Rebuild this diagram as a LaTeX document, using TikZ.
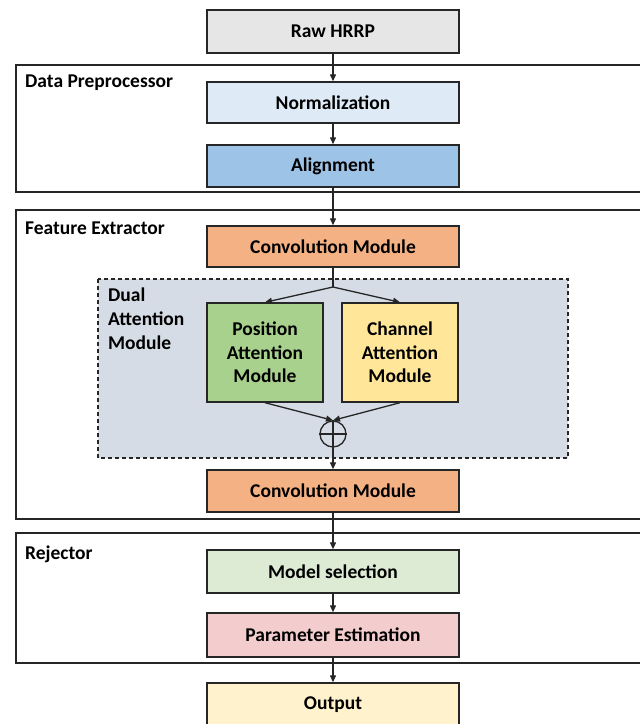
\documentclass[tikz,border=0pt]{standalone}
\usepackage{fontspec}
\setmainfont{Carlito}
\usetikzlibrary{arrows.meta}
\definecolor{edge}{HTML}{262626}
\definecolor{cRaw}{HTML}{E7E6E6}
\definecolor{cNorm}{HTML}{DEEBF7}
\definecolor{cAlign}{HTML}{9DC3E6}
\definecolor{cConv}{HTML}{F4B183}
\definecolor{cDual}{HTML}{D6DCE5}
\definecolor{cPos}{HTML}{A9D18E}
\definecolor{cChan}{HTML}{FFE699}
\definecolor{cSel}{HTML}{DDEBD5}
\definecolor{cPar}{HTML}{F3CDCD}
\definecolor{cOut}{HTML}{FFF2CC}
\begin{document}
\begin{tikzpicture}[x=1pt,y=-1pt,
  txt/.style={font=\bfseries\fontsize{19.5}{23.5}\selectfont},
  box/.style={txt, draw=edge, line width=1.4pt, minimum width=252pt, inner sep=0pt, align=center},
  grp/.style={draw=edge, line width=1.4pt},
  lab/.style={txt, anchor=base west, inner sep=0pt, align=left},
  ln/.style={draw=edge, line width=1.3pt},
  arr/.style={ln, -{Triangle[length=7pt,width=6pt]}}
]
\useasboundingbox (0,0) rectangle (640,724);
\fill[white] (0,0) rectangle (640,724);
\clip (0,0) rectangle (640,724);
% group frames
\draw[grp] (16,65) rectangle (670,192);
\draw[grp] (16,210) rectangle (670,519);
\draw[grp] (16,533) rectangle (670,663);
\draw[draw=edge, line width=1.3pt, dash pattern=on 4pt off 3pt, fill=cDual] (98,279) rectangle (568,458);
% group labels
\node[lab] (lDP) at (25,87) {Data Preprocessor};
\node[lab] (lFE) at (25,234) {Feature Extractor};
\node[lab, font=\bfseries\fontsize{19.5}{24}\selectfont] (lDA) at (108,349) {Dual\\Attention\\Module};
\node[lab] (lRJ) at (25,559) {Rejector};
% boxes
\node[box, fill=cRaw, minimum height=43pt] (raw) at (333,31.5) {Raw HRRP};
\node[box, fill=cNorm, minimum height=41pt] (norm) at (333,102.5) {Normalization};
\node[box, fill=cAlign, minimum height=42pt] (align) at (333,166) {Alignment};
\node[box, fill=cConv, minimum height=41pt] (conv1) at (333,246.5) {Convolution Module};
\node[box, fill=cPos, minimum width=116pt, minimum height=99pt] (pos) at (265,352.5) {Position\\Attention\\Module};
\node[box, fill=cChan, minimum width=116pt, minimum height=99pt] (chan) at (400,352.5) {Channel\\Attention\\Module};
\node[circle, ln, minimum size=26pt, inner sep=0pt] (plus) at (333,434) {};
\draw[ln] (plus.north) -- (plus.south) (plus.west) -- (plus.east);
\node[box, fill=cConv, minimum height=42pt] (conv2) at (333,491) {Convolution Module};
\node[box, fill=cSel, minimum height=43pt] (sel) at (333,571.5) {Model selection};
\node[box, fill=cPar, minimum height=44pt] (par) at (333,635) {Parameter Estimation};
\node[box, fill=cOut, minimum height=43pt] (out) at (333,704.5) {Output};
% connectors
\draw[arr] (raw) -- (norm);
\draw[arr] (norm) -- (align);
\draw[arr] (align) -- (conv1);
\coordinate (split) at (333,287);
\draw[ln] (conv1) -- (split);
\draw[arr] (split) -- (pos.north);
\draw[arr] (split) -- (chan.north);
\draw[arr] (pos.south) -- (plus.north);
\draw[arr] (chan.south) -- (plus.north);
\draw[arr] (plus) -- (conv2);
\draw[arr] (conv2) -- (sel);
\draw[arr] (sel) -- (par);
\draw[arr] (par) -- (out);
\end{tikzpicture}
\end{document}
